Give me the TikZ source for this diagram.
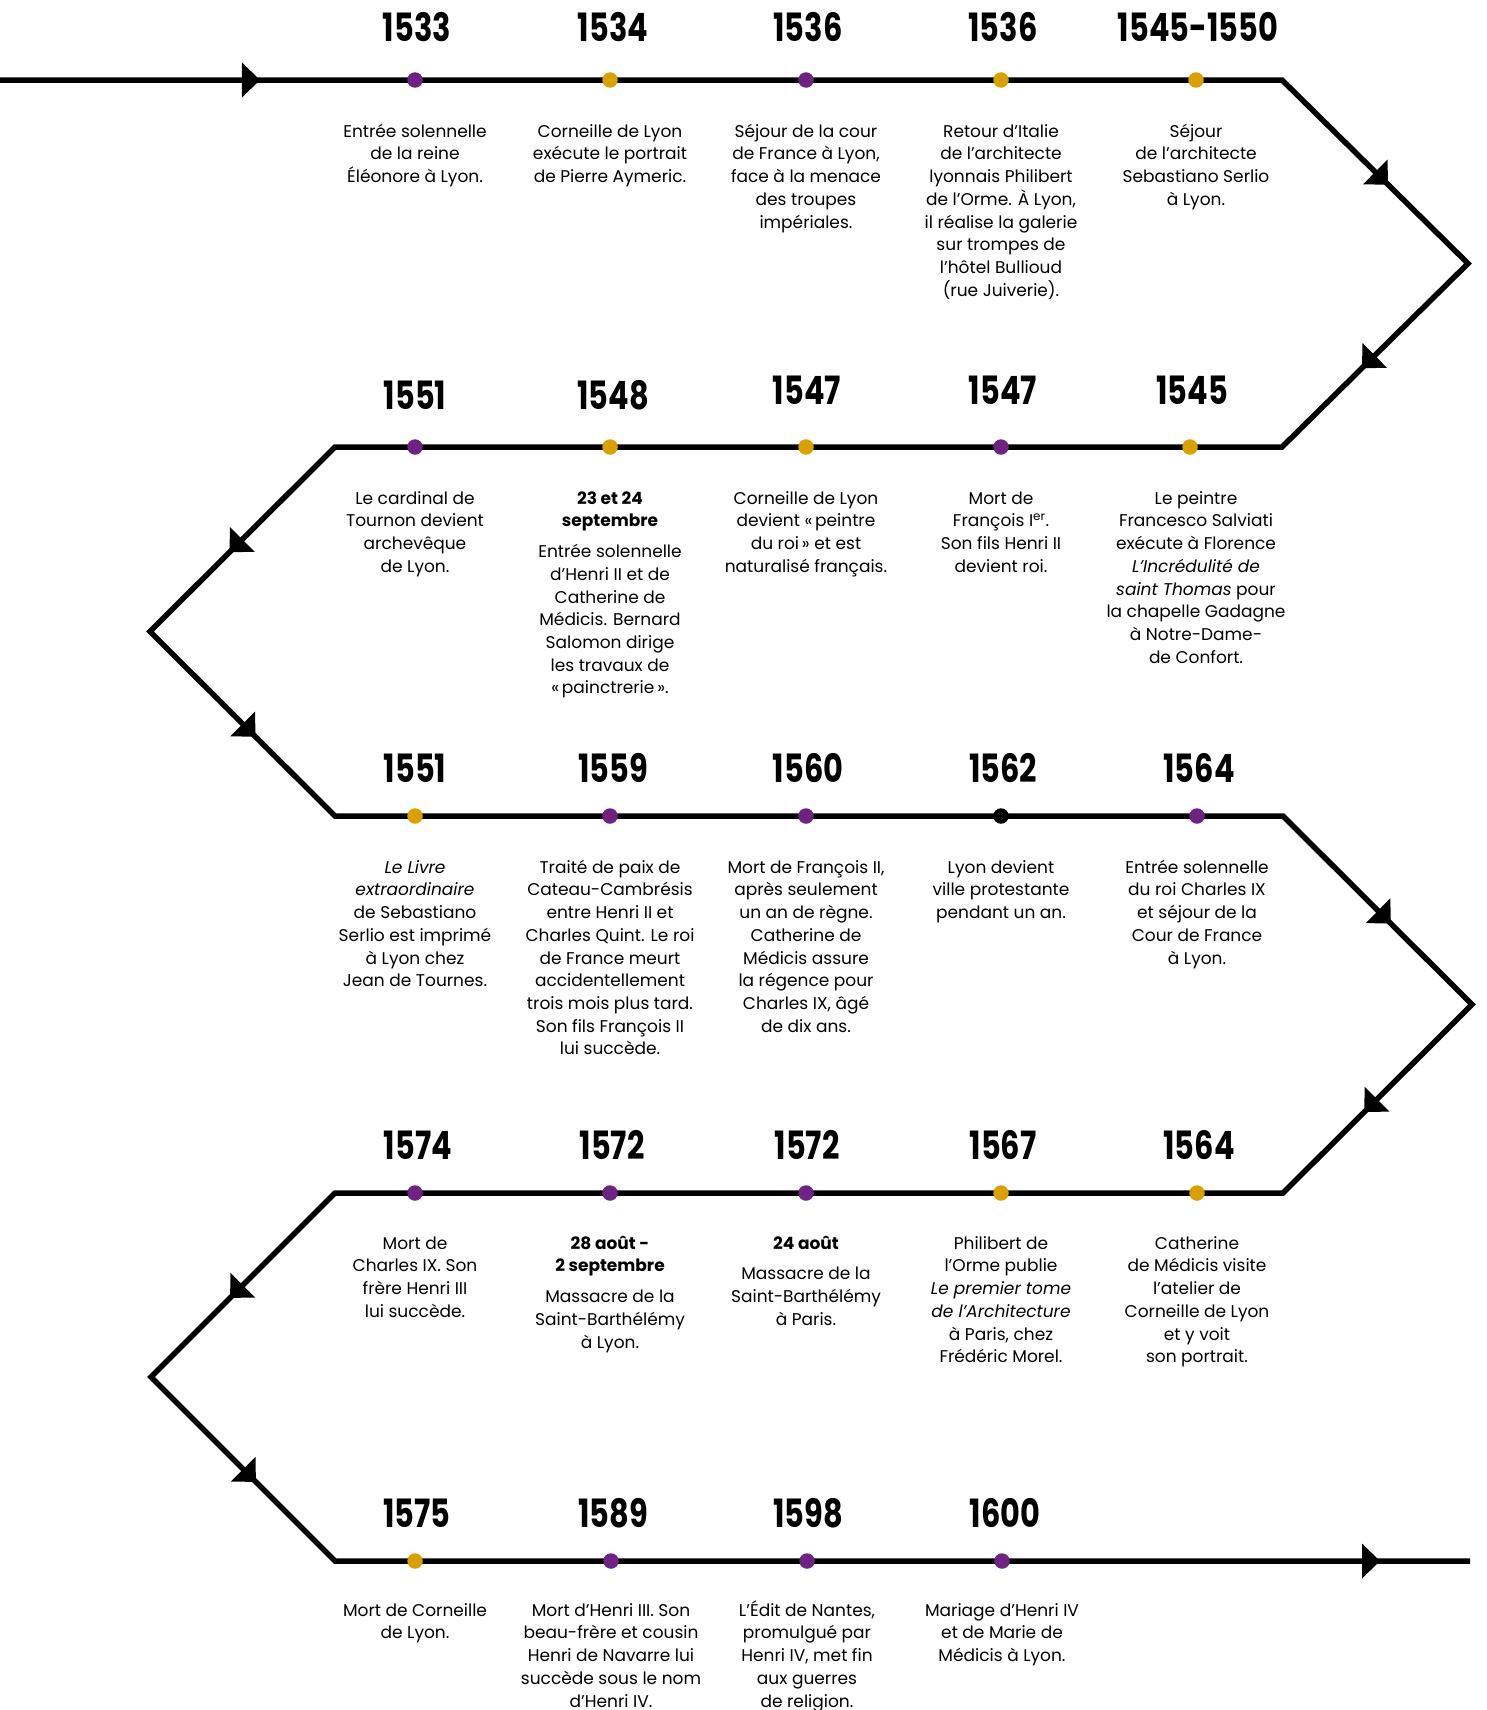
\documentclass[tikz,border=0pt]{standalone}
\usepackage{fontspec}
\setmainfont{Poppins}
\newfontfamily\yearfont{Poppins}[FakeStretch=0.78]
\usetikzlibrary{calc}
\definecolor{tlpurple}{RGB}{110,34,130}
\definecolor{tlgold}{RGB}{218,160,0}
\newcommand\midarrow[3]{%
  \path ($(#1)!#3!(#2)$) coordinate (T) ($(T)!18pt!(#1)$) coordinate (M);
  \fill ($(M)!17.5pt!90:(T)$) -- (T) -- ($(M)!17.5pt!-90:(T)$) -- cycle;}
\newcommand\fstrut{\rule{0pt}{20pt}}
\tikzset{
  tl/.style={line width=5.5pt, line join=miter},
  dot/.style={circle, inner sep=0pt, minimum size=15.5pt},
  yr/.style={anchor=base, inner sep=0pt, font=\yearfont\bfseries\fontsize{39}{40}\selectfont},
  desc/.style={anchor=north, align=center, inner sep=0pt, font=\fontsize{17}{22.7}\selectfont},
}
\begin{document}
\begin{tikzpicture}[x=1pt,y=-1pt]
\useasboundingbox (0,0) rectangle (1486,1710);
% path corners
\coordinate (s) at (0,80);
\coordinate (c1) at (1282,80);
\coordinate (r1) at (1468,263.5);
\coordinate (c2) at (1282,447);
\coordinate (c3) at (335,447);
\coordinate (l1) at (150,631.5);
\coordinate (c4) at (335,816);
\coordinate (c5) at (1283,816);
\coordinate (r2) at (1472,1004.5);
\coordinate (c6) at (1283,1193);
\coordinate (c7) at (335,1193);
\coordinate (l2) at (151,1377);
\coordinate (c8) at (335,1561);
\coordinate (e) at (1470,1561);
\draw[tl] (s) -- (c1) -- (r1) -- (c2) -- (c3) -- (l1) -- (c4) -- (c5) -- (r2) -- (c6) -- (c7) -- (l2) -- (c8) -- (e);
% arrows
\midarrow{s}{c1}{0.2028}
\midarrow{c1}{r1}{0.57}
\midarrow{r1}{c2}{0.57}
\midarrow{c3}{l1}{0.57}
\midarrow{l1}{c4}{0.57}
\midarrow{c5}{r2}{0.57}
\midarrow{r2}{c6}{0.57}
\midarrow{c7}{l2}{0.57}
\midarrow{l2}{c8}{0.57}
\midarrow{c8}{e}{0.9207}

% ---------- Row 1 ----------
\node[dot, fill=tlpurple] (d11) at (415,80) {};
\node[dot, fill=tlgold]   (d12) at (610,80) {};
\node[dot, fill=tlpurple] (d13) at (806,80) {};
\node[dot, fill=tlgold]   (d14) at (1001,80) {};
\node[dot, fill=tlgold]   (d15) at (1196,80) {};
\node[yr] (y11) at (417,42) {1533};
\node[yr] (y12) at (613,42) {1534};
\node[yr] (y13) at (808,42) {1536};
\node[yr] (y14) at (1003,42) {1536};
\node[yr] (y15) at (1198,42) {1545-1550};
\node[desc] (t11) at (415,117) {\fstrut Entrée solennelle\\de la reine\\Éléonore à Lyon.};
\node[desc] (t12) at (610,117) {\fstrut Corneille de Lyon\\exécute le portrait\\de Pierre Aymeric.};
\node[desc] (t13) at (806,117) {\fstrut Séjour de la cour\\de France à Lyon,\\face à la menace\\des troupes\\impériales.};
\node[desc] (t14) at (1001,117) {\fstrut Retour d’Italie\\de l’architecte\\lyonnais Philibert\\de l’Orme. À Lyon,\\il réalise la galerie\\sur trompes de\\l’hôtel Bullioud\\(rue Juiverie).};
\node[desc] (t15) at (1196,117) {\fstrut Séjour\\de l’architecte\\Sebastiano Serlio\\à Lyon.};

% ---------- Row 2 ----------
\node[dot, fill=tlpurple] (d21) at (415,447) {};
\node[dot, fill=tlgold]   (d22) at (610,447) {};
\node[dot, fill=tlgold]   (d23) at (806,447) {};
\node[dot, fill=tlpurple] (d24) at (1001,447) {};
\node[dot, fill=tlgold]   (d25) at (1190,447) {};
\node[yr] (y21) at (415,409) {1551};
\node[yr] (y22) at (613,409) {1548};
\node[yr] (y23) at (807,404) {1547};
\node[yr] (y24) at (1003,404) {1547};
\node[yr] (y25) at (1192,404) {1545};
\node[desc] (t21) at (415,484) {\fstrut Le cardinal de\\Tournon devient\\archevêque\\de Lyon.};
\node[desc] (t22) at (610,484) {\fstrut\textbf{23 et 24}\\\textbf{septembre}\\[8pt]Entrée solennelle\\d’Henri II et de\\Catherine de\\Médicis. Bernard\\Salomon dirige\\les travaux de\\«\,painctrerie\,».};
\node[desc] (t23) at (806,484) {\fstrut Corneille de Lyon\\devient «\,peintre\\du roi\,» et est\\naturalisé français.};
\node[desc] (t24) at (1001,484) {\fstrut Mort de\\François I\textsuperscript{er}.\\Son fils Henri II\\devient roi.};
\node[desc] (t25) at (1196,484) {\fstrut Le peintre\\Francesco Salviati\\exécute à Florence\\\textit{L’Incrédulité de}\\\textit{saint Thomas} pour\\la chapelle Gadagne\\à Notre-Dame-\\de Confort.};

% ---------- Row 3 ----------
\node[dot, fill=tlgold]   (d31) at (415,816) {};
\node[dot, fill=tlpurple] (d32) at (610,816) {};
\node[dot, fill=tlpurple] (d33) at (806,816) {};
\node[dot, fill=black]    (d34) at (1001,816) {};
\node[dot, fill=tlpurple] (d35) at (1197,816) {};
\node[yr] (y31) at (415,782) {1551};
\node[yr] (y32) at (613,782) {1559};
\node[yr] (y33) at (808,782) {1560};
\node[yr] (y34) at (1003,782) {1562};
\node[yr] (y35) at (1199,782) {1564};
\node[desc] (t31) at (415,853) {\fstrut\textit{Le Livre}\\\textit{extraordinaire}\\de Sebastiano\\Serlio est imprimé\\à Lyon chez\\Jean de Tournes.};
\node[desc] (t32) at (610,853) {\fstrut Traité de paix de\\Cateau-Cambrésis\\entre Henri II et\\Charles Quint. Le roi\\de France meurt\\accidentellement\\trois mois plus tard.\\Son fils François II\\lui succède.};
\node[desc] (t33) at (806,853) {\fstrut Mort de François II,\\après seulement\\un an de règne.\\Catherine de\\Médicis assure\\la régence pour\\Charles IX, âgé\\de dix ans.};
\node[desc] (t34) at (1001,853) {\fstrut Lyon devient\\ville protestante\\pendant un an.};
\node[desc] (t35) at (1197,853) {\fstrut Entrée solennelle\\du roi Charles IX\\et séjour de la\\Cour de France\\à Lyon.};

% ---------- Row 4 ----------
\node[dot, fill=tlpurple] (d41) at (415,1193) {};
\node[dot, fill=tlpurple] (d42) at (610,1193) {};
\node[dot, fill=tlpurple] (d43) at (806,1193) {};
\node[dot, fill=tlgold]   (d44) at (1001,1193) {};
\node[dot, fill=tlgold]   (d45) at (1197,1193) {};
\node[yr] (y41) at (418,1159) {1574};
\node[yr] (y42) at (612,1159) {1572};
\node[yr] (y43) at (807,1159) {1572};
\node[yr] (y44) at (1003,1159) {1567};
\node[yr] (y45) at (1199,1159) {1564};
\node[desc] (t41) at (415,1229) {\fstrut Mort de\\Charles IX. Son\\frère Henri III\\lui succède.};
\node[desc] (t42) at (610,1229) {\fstrut\textbf{28 août -}\\\textbf{2 septembre}\\[8pt]Massacre de la\\Saint-Barthélémy\\à Lyon.};
\node[desc] (t43) at (806,1229) {\fstrut\textbf{24 août}\\[8pt]Massacre de la\\Saint-Barthélémy\\à Paris.};
\node[desc] (t44) at (1001,1229) {\fstrut Philibert de\\l’Orme publie\\\textit{Le premier tome}\\\textit{de l’Architecture}\\à Paris, chez\\Frédéric Morel.};
\node[desc] (t45) at (1197,1229) {\fstrut Catherine\\de Médicis visite\\l’atelier de\\Corneille de Lyon\\et y voit\\son portrait.};

% ---------- Row 5 ----------
\node[dot, fill=tlgold]   (d51) at (415,1561) {};
\node[dot, fill=tlpurple] (d52) at (611,1561) {};
\node[dot, fill=tlpurple] (d53) at (807,1561) {};
\node[dot, fill=tlpurple] (d54) at (1002,1561) {};
\node[yr] (y51) at (417,1527) {1575};
\node[yr] (y52) at (613,1527) {1589};
\node[yr] (y53) at (808,1527) {1598};
\node[yr] (y54) at (1005,1527) {1600};
\node[desc] (t51) at (415,1596) {\fstrut Mort de Corneille\\de Lyon.};
\node[desc] (t52) at (611,1596) {\fstrut Mort d’Henri III. Son\\beau-frère et cousin\\Henri de Navarre lui\\succède sous le nom\\d’Henri IV.};
\node[desc] (t53) at (807,1596) {\fstrut L’Édit de Nantes,\\promulgué par\\Henri IV, met fin\\aux guerres\\de religion.};
\node[desc] (t54) at (1002,1596) {\fstrut Mariage d’Henri IV\\et de Marie de\\Médicis à Lyon.};
\end{tikzpicture}
\end{document}
